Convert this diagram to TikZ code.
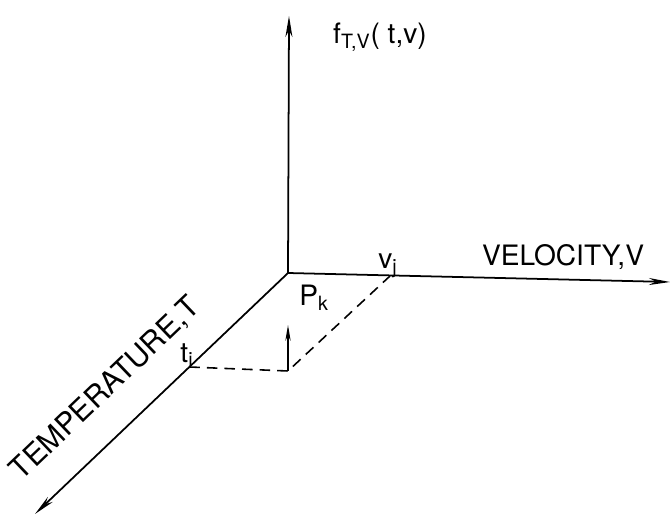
\documentclass[tikz,border=0pt]{standalone}
\usepackage{fontspec}
\setmainfont{TeX Gyre Heros}
\usetikzlibrary{arrows.meta, calc}

\begin{document}
\begin{tikzpicture}[
      axis/.style={-{Stealth[length=12pt,width=4pt]}, line width=1pt},
      guide/.style={dashed, dash pattern=on 6pt off 4pt, line width=0.9pt},
      lbl/.style={font=\fontsize{16}{16}\selectfont, inner sep=0pt}
   ]
   \useasboundingbox (0,0) rectangle (13.42,10.38);
   % Origin and axis ends
   \coordinate (O) at (5.76,4.92);
   \coordinate (Ftop) at (5.78,10.06);
   \coordinate (Vend) at (13.4,4.74);
   \coordinate (Tend) at (0.7,0.1);
   % Axes
   \draw[axis] (O) -- (Ftop);
   \draw[axis] (O) -- (Vend);
   \draw[axis] (O) -- (Tend);
   % Points t_i, v_j and the corner
   \coordinate (ti) at ($(O)!0.39!(Tend)$);
   \coordinate (vj) at (7.8,4.86);
   \coordinate (C) at (5.76,2.96);
   \coordinate (Ctop) at (5.76,3.88);
   % Dashed projection lines
   \draw[guide] (ti) -- (C) -- (vj);
   % Small arrow at the corner
   \draw[-{Stealth[length=9pt,width=3pt]}, line width=0.9pt] (C) -- (Ctop);
   % Labels
   \node[lbl] (fTV) at (7.6,9.64) {f\textsubscript{T,V}( t,v)};
   \node[lbl] (VEL) at (11.26,5.24) {VELOCITY,V};
   \node[lbl, font=\fontsize{17}{17}\selectfont, rotate=43.7] (TEMP) at (2.12,2.6) {TEMPERATURE,T};
   \node[lbl] (Pk) at (6.28,4.42) {P\textsubscript{k}};
   \node[lbl] (vjl) at (7.76,5.06) {v\textsubscript{j}};
   \node[lbl] (til) at (3.74,3.28) {t\textsubscript{i}};
\end{tikzpicture}
\end{document}
